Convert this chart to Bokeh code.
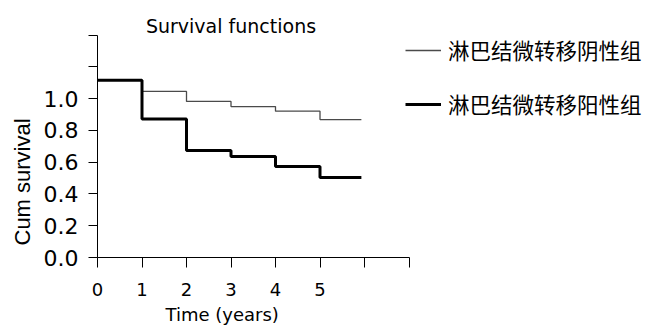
from bokeh.plotting import figure
from bokeh.models import Legend, LegendItem, Label, FixedTicker, Range1d, Title
from bokeh.embed import file_html
from bokeh.resources import INLINE
import math

# ---- data ----
time_points = [0, 1, 2, 3, 4, 5, 5.93]
surv_negative = [1.116, 1.045, 0.982, 0.950, 0.921, 0.868, 0.868]
surv_positive = [1.116, 0.871, 0.673, 0.636, 0.573, 0.503, 0.503]
x_ticks = [0, 1, 2, 3, 4, 5, 6, 7]
x_tick_labels = ["0", "1", "2", "3", "4", "5", "", ""]
y_ticks = [0.0, 0.2, 0.4, 0.6, 0.8, 1.0, 1.2, 1.4]
y_tick_labels = ["0.0", "0.2", "0.4", "0.6", "0.8", "1.0", "", ""]
series_names = ["淋巴结微转移阴性组", "淋巴结微转移阳性组"]
title_text = "Survival functions"
x_label = "Time (years)"
y_label = "Cum survival"

p = figure(width=646, height=332, output_backend="svg", toolbar_location=None, title=None,
           x_range=Range1d(0, 549 / 44.5), y_range=Range1d(0, 257 / 158.9),
           min_border_left=97, min_border_right=0, min_border_top=0, min_border_bottom=75)
p.outline_line_color = None
p.xgrid.grid_line_color = None
p.ygrid.grid_line_color = None
p.background_fill_color = "white"

r_neg = p.step(time_points, surv_negative, mode="after", line_color="#4a4a4a", line_width=1.3)
r_pos = p.step(time_points, surv_positive, mode="after", line_color="black", line_width=3)

# axes
p.xaxis.ticker = FixedTicker(ticks=x_ticks)
p.xaxis.major_label_overrides = {t: l for t, l in zip(x_ticks, x_tick_labels)}
p.yaxis.ticker = FixedTicker(ticks=y_ticks)
p.yaxis.major_label_overrides = {t: l for t, l in zip(y_ticks, y_tick_labels)}
p.xaxis.bounds = (0, 7)
p.yaxis.bounds = (0, 1.4)
for ax in (p.xaxis[0], p.yaxis[0]):
    ax.axis_line_color = "black"
    ax.major_tick_line_color = "black"
    ax.minor_tick_line_color = None
    ax.major_tick_in = 0
    ax.major_label_text_font = "DejaVu Sans"
    ax.major_label_text_color = "black"
p.xaxis.major_tick_out = 10
p.yaxis.major_tick_out = 9
p.xaxis.major_label_text_font_size = "18px"
p.yaxis.major_label_text_font_size = "22px"
p.xaxis.major_label_standoff = 15
p.yaxis.major_label_standoff = 10

# title inside the frame
p.add_layout(Label(x=3.0, y=1.458, text=title_text, text_align="center", text_baseline="alphabetic",
                   text_font="DejaVu Sans", text_font_size="19px", text_color="black"))

# axis titles as side titles
p.add_layout(Title(text=x_label, align="left", offset=68, standoff=7,
                   text_font="DejaVu Sans", text_font_size="18px", text_font_style="normal",
                   text_color="black"), "below")
p.add_layout(Title(text=y_label, align="left", offset=12, standoff=12,
                   text_font="Liberation Sans", text_font_size="22px", text_font_style="normal",
                   text_color="black"), "left")

legend = Legend(items=[LegendItem(label=series_names[0], renderers=[r_neg]),
                       LegendItem(label=series_names[1], renderers=[r_pos])],
                location=(308, 138), orientation="vertical",
                glyph_width=36, glyph_height=30, label_height=30, spacing=23,
                label_standoff=7, padding=0, margin=0,
                border_line_color=None, background_fill_alpha=0,
                label_text_font="Noto Sans CJK SC", label_text_font_size="21.5px",
                label_text_color="black")
p.add_layout(legend, "center")

open("out.html", "w").write(file_html(p, INLINE))
